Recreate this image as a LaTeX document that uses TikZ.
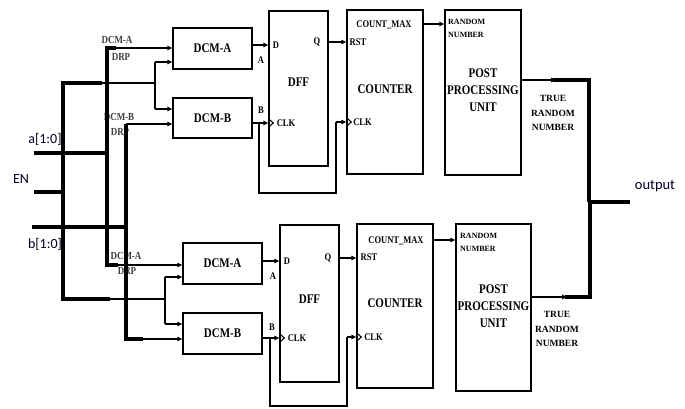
\documentclass[tikz,border=0pt]{standalone}
\usepackage{fontspec}
\setmainfont{Liberation Serif}
\newfontfamily\calfont{Carlito}
\usetikzlibrary{arrows.meta}
\newcommand\tl[1]{\scalebox{1}[1.2]{#1}}
\begin{document}
\begin{tikzpicture}[x=1pt,y=-1pt,
 box/.style={draw, line width=1.4pt, inner sep=0pt, font=\bfseries\fontsize{11}{12}\selectfont},
 lbl/.style={font=\bfseries\fontsize{8.5}{9}\selectfont, inner sep=0pt},
 midlbl/.style={font=\bfseries\fontsize{9}{10}\selectfont, inner sep=0pt, text=black!75},
 big/.style={font=\bfseries\fontsize{11}{17}\selectfont, align=center, inner sep=0pt},
 trn/.style={font=\bfseries\fontsize{9.5}{14.5}\selectfont, align=center, inner sep=0pt},
 rnd/.style={font=\bfseries\fontsize{8}{13}\selectfont, align=left, inner sep=0pt, anchor=north west},
 sig/.style={font=\calfont\fontsize{14}{16}\selectfont, inner sep=0pt, text=black!85!blue},
 wthin/.style={line width=1.4pt},
 thk/.style={line width=3.2pt},
 arr/.style={wthin, -{Triangle[length=5pt,width=4.5pt]}},
 clk/.style={line width=1.1pt}
]
\useasboundingbox[fill=white] (0,0) rectangle (685,409);

% ---------- boxes ----------
\node[box, minimum width=79pt, minimum height=41pt] (dcmA1) at (212.5,48.5) {\tl{DCM-A}};
\node[box, minimum width=79pt, minimum height=40pt] (dcmB1) at (212.5,118) {\tl{DCM-B}};
\node[box, minimum width=59pt, minimum height=155pt] (dff1) at (298.5,88.5) {};
\node[box, minimum width=76pt, minimum height=164pt] (cnt1) at (385,92) {};
\node[box, minimum width=76pt, minimum height=165pt] (post1) at (483,92.5) {};

\node[box, minimum width=79pt, minimum height=41pt] (dcmA2) at (222.5,263.5) {\tl{DCM-A}};
\node[box, minimum width=79pt, minimum height=41pt] (dcmB2) at (222.5,333.5) {\tl{DCM-B}};
\node[box, minimum width=59pt, minimum height=157pt] (dff2) at (309.5,303.5) {};
\node[box, minimum width=76pt, minimum height=164pt] (cnt2) at (395,306) {};
\node[box, minimum width=75pt, minimum height=167pt] (post2) at (493.5,307.5) {};

% ---------- box inner texts ----------
\node[big] (dfft1) at (298.5,82) {\tl{DFF}};
\node[big] (cntt1) at (385,89) {\tl{COUNTER}};
\node[big] (postt1) at (483,90) {\tl{POST}\\\tl{PROCESSING}\\\tl{UNIT}};
\node[big] (dfft2) at (309.5,299) {\tl{DFF}};
\node[big] (cntt2) at (395,303) {\tl{COUNTER}};
\node[big] (postt2) at (493.5,306) {\tl{POST}\\\tl{PROCESSING}\\\tl{UNIT}};

% ---------- small labels ----------
\node[midlbl] (la1) at (117,40) {\tl{DCM-A}};
\node[midlbl] (lr1) at (121,57) {\tl{DRP}};
\node[midlbl] (lb1) at (119,117) {\tl{DCM-B}};
\node[midlbl] (lr2) at (120,132) {\tl{DRP}};
\node[midlbl] (la2) at (126,256) {\tl{DCM-A}};
\node[midlbl] (lr3) at (127,271) {\tl{DRP}};

\node[lbl] (d1) at (276,45) {\tl{D}};
\node[lbl] (a1) at (261,60) {\tl{A}};
\node[lbl] (b1) at (261,110) {\tl{B}};
\node[lbl] (c1) at (286,123) {\tl{CLK}};
\node[lbl] (q1) at (317,42) {\tl{Q}};
\node[lbl] (r1) at (358,42) {\tl{RST}};
\node[lbl] (cm1) at (384,25) {\tl{COUNT\_MAX}};
\node[lbl] (c1b) at (362.5,122) {\tl{CLK}};
\node[rnd] (rn1) at (448,19) {RANDOM\\NUMBER};
\node[trn] (tr1) at (553,113) {TRUE\\RANDOM\\NUMBER};

\node[lbl] (d2) at (287,261) {\tl{D}};
\node[lbl] (a2) at (273,276) {\tl{A}};
\node[lbl] (b2) at (272,327) {\tl{B}};
\node[lbl] (c2) at (297,338) {\tl{CLK}};
\node[lbl] (q2) at (328,258) {\tl{Q}};
\node[lbl] (r2) at (369,257) {\tl{RST}};
\node[lbl] (cm2) at (396,241) {\tl{COUNT\_MAX}};
\node[lbl] (c2b) at (373.5,337) {\tl{CLK}};
\node[rnd] (rn2) at (460,233) {RANDOM\\NUMBER};
\node[trn] (tr2) at (557,329) {TRUE\\RANDOM\\NUMBER};

% ---------- signal labels ----------
\node[sig] (sa) at (45,139) {a[1:0]};
\node[sig] (sen) at (21,179) {EN};
\node[sig] (sb) at (45,244) {b[1:0]};
\node[sig, font=\calfont\fontsize{14.5}{16}\selectfont] (sout) at (655,186) {output};

% ---------- coordinates ----------
\coordinate (en1) at (63,83);
\coordinate (en2) at (63,299);
\coordinate (ea) at (107,48);
\coordinate (ea2) at (107,265);
\coordinate (eb) at (126,124);
\coordinate (eb2) at (126,339);
\coordinate (ia) at (34,153);
\coordinate (ie) at (34,192);
\coordinate (ib) at (32,227);
\coordinate (br1) at (155,83);
\coordinate (br2) at (165,299);
\coordinate (o1) at (589,80);
\coordinate (o2) at (590,297);
\coordinate (oj) at (590,202);
\coordinate (oend) at (630,202);

% ---------- input wiring ----------
\draw[thk] (en1) -- (en2);
\draw[thk] (ea) -- (ea2);
\draw[thk] (eb) -- (eb2);
\draw[thk] (ia) -- (108.5,153);
\draw[thk] (ie) -- (64.5,192);
\draw[thk] (ib) -- (127.6,227);
\draw[thk] (61.4,83) -- (102,83);
\draw[wthin] (102,83) -- (br1);
\draw[thk] (61.4,299) -- (110,299);
\draw[wthin] (110,299) -- (br2);
\draw[thk] (105.4,48) -- (116,48);
\draw[thk] (105.4,265) -- (118,265);
\draw[thk] (124.4,339) -- (143,339);

\draw[arr] (116,48) -- (dcmA1.west |- ea);
\draw[arr] (br1 |- 0,62) -- (dcmA1.west |- 0,62);
\draw[wthin] (br1 |- 0,62) -- (br1 |- 0,109);
\draw[arr] (br1 |- 0,109) -- (dcmB1.west |- 0,109);
\draw[arr] (eb) -- (dcmB1.west |- eb);

\draw[arr] (118,265) -- (dcmA2.west |- ea2);
\draw[arr] (br2 |- 0,277) -- (dcmA2.west |- 0,277);
\draw[wthin] (br2 |- 0,277) -- (br2 |- 0,324);
\draw[arr] (br2 |- 0,324) -- (dcmB2.west |- 0,324);
\draw[arr] (143,339) -- (dcmB2.west |- eb2);

% ---------- top chain ----------
\draw[arr] (dcmA1.east |- 0,45) -- (dff1.west |- 0,45);
\draw[arr] (dcmB1.east |- 0,123) -- (dff1.west |- 0,123);
\draw[wthin] (259,123) -- (259,193) -- (336,193) -- (336,122);
\draw[arr] (336,122) -- (cnt1.west |- 0,122);
\draw[arr] (dff1.east |- 0,42) -- (cnt1.west |- 0,42);
\draw[arr] (cnt1.east |- 0,24) -- (post1.west |- 0,24);
\draw[clk] (dff1.west |- 0,118.5) -- ++(5,4.5) -- ++(-5,4.5);
\draw[clk] (cnt1.west |- 0,117.5) -- ++(5,4.5) -- ++(-5,4.5);

% ---------- bottom chain ----------
\draw[arr] (dcmA2.east |- 0,261) -- (dff2.west |- 0,261);
\draw[arr] (dcmB2.east |- 0,338) -- (dff2.west |- 0,338);
\draw[wthin] (270,338) -- (270,406) -- (347,406) -- (347,337);
\draw[arr] (347,337) -- (cnt2.west |- 0,337);
\draw[arr] (dff2.east |- 0,258) -- (cnt2.west |- 0,258);
\draw[arr] (cnt2.east |- 0,240) -- (post2.west |- 0,240);
\draw[clk] (dff2.west |- 0,333.5) -- ++(5,4.5) -- ++(-5,4.5);
\draw[clk] (cnt2.west |- 0,332.5) -- ++(5,4.5) -- ++(-5,4.5);

% ---------- output ----------
\draw[arr] (post1.east |- o1) -- (556,80);
\draw[thk, line join=miter] (553,80) -- (o1) -- (589,202);
\draw[arr] (post2.east |- o2) -- (567,297);
\draw[thk, line join=miter] (565,297) -- (o2) -- (oj);
\draw[thk] (588.4,202) -- (oend);
\end{tikzpicture}
\end{document}
